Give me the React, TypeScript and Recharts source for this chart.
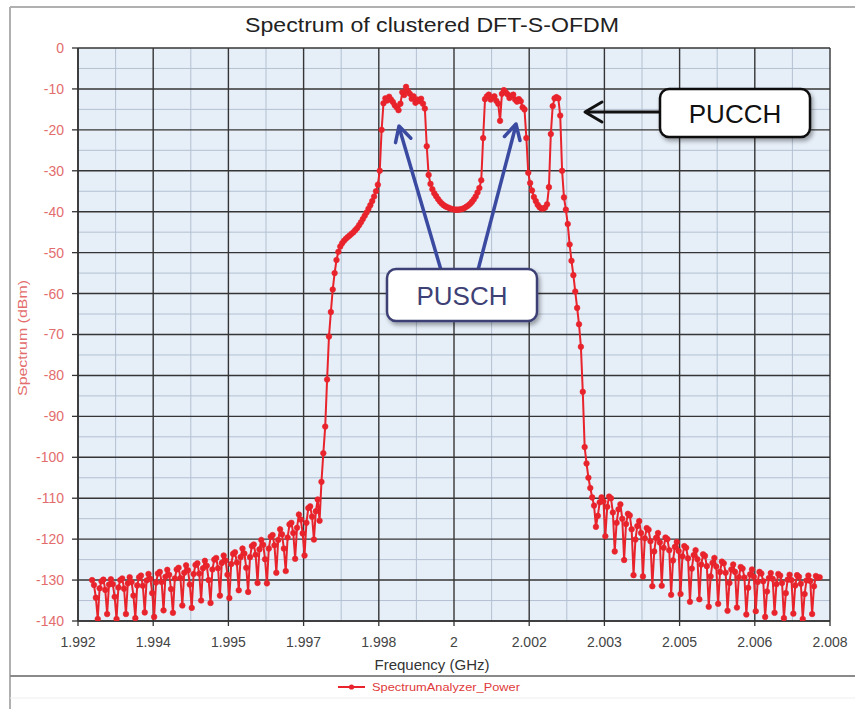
import React from 'react';
import { LineChart, Line, XAxis, YAxis, CartesianGrid } from 'recharts';

// Uniform frequency sampling grid (GHz)
const FREQ_START = 1.9923;
const FREQ_STEP = 0.00004;

// Spectrum values (dBm), in order of frequency
const leftSidelobe = [
  -130.0, -131.2, -134.3, -139.5, -132.0,
  -130.3, -129.9, -132.4, -138.3, -131.1,
  -129.8, -131.0, -134.1, -139.5, -131.8,
  -130.0, -129.6, -132.1, -138.3, -130.8,
  -129.3, -130.5, -133.8, -139.3, -131.3,
  -129.3, -128.9, -131.4, -137.9, -130.1,
  -128.5, -129.7, -133.2, -139.0, -130.6,
  -128.4, -128.0, -130.5, -137.4, -129.2,
  -127.5, -128.7, -132.2, -138.0, -129.6,
  -127.4, -127.0, -129.5, -136.2, -128.2,
  -126.4, -127.6, -131.1, -136.8, -128.5,
  -126.3, -125.9, -128.4, -135.0, -127.1,
  -125.3, -126.5, -130.0, -135.6, -127.4,
  -125.0, -124.6, -127.1, -133.8, -125.8,
  -124.0, -125.2, -128.7, -134.4, -126.1,
  -123.6, -123.2, -125.7, -132.5, -124.4,
  -122.3, -123.5, -127.0, -132.9, -124.4,
  -121.7, -121.3, -123.8, -130.7, -122.5,
  -120.2, -121.4, -124.9, -130.8, -122.3,
  -119.4, -119.0, -121.5, -128.2, -120.2,
  -117.6, -118.8, -122.3, -127.8, -119.6,
  -116.4, -116.0, -118.5, -124.8, -117.2,
  -114.0, -115.2, -118.6, -124.0, -116.0,
  -112.4, -112.0, -114.5, -120.1, -113.2,
];

const mainBand = [
  -110.3, -115.5, -106.0, -99.0, -92.5, -81.0, -70.5, -64.5, -59.0, -55.0,
  -51.8, -49.8, -48.5, -47.7, -47.1, -46.6, -46.2, -45.8, -45.4, -45.0,
  -44.5, -44.0, -43.3, -42.6, -41.8, -41.0, -40.2, -39.3, -38.4, -37.4,
  -36.3, -35.0, -33.4, -30.0, -20.0,
  // PUSCH cluster 1
  -13.5, -12.3, -12.8, -11.9, -12.6, -13.2, -14.0, -14.5, -15.2, -13.6,
  -10.8, -11.5, -9.5, -10.5, -11.2, -12.4, -11.8, -13.4, -12.6, -13.0,
  -12.4, -13.6, -14.8,
  // gap
  -24.0, -31.0, -33.2, -34.5, -35.5, -36.2, -36.9, -37.5, -38.0, -38.4,
  -38.7, -38.9, -39.1, -39.3, -39.4, -39.5, -39.5, -39.5, -39.4, -39.3,
  -39.1, -38.8, -38.5, -38.1, -37.6, -37.0, -36.3, -35.3, -34.2, -32.3,
  -22.0,
  // PUSCH cluster 2
  -12.5, -11.8, -11.4, -12.6, -12.1, -11.8, -12.9, -13.6, -17.8, -11.2,
  -10.3, -10.8, -11.3, -12.2, -11.7, -11.4, -12.6, -13.1, -12.5, -13.0,
  -14.5, -15.0,
  // gap + PUCCH
  -22.0, -30.5, -33.0, -34.8, -36.4, -37.4, -38.3, -38.9, -39.2, -39.2,
  -39.0, -38.2, -34.0, -21.0, -14.2, -12.3, -12.0, -12.3, -16.5, -30.0,
  // falling edge
  -36.5, -39.5, -43.0, -48.0, -52.0, -55.5, -59.5, -63.5, -67.5, -73.0,
  -84.0, -97.5, -101.5, -105.0, -107.5, -109.8,
];

const rightSidelobe = [
  -111.8, -117.0, -114.3, -111.0, -109.8,
  -110.8, -119.3, -112.1, -109.6, -110.0,
  -113.5, -123.0, -116.0, -112.7, -111.5,
  -115.0, -125.1, -116.3, -113.8, -114.2,
  -117.6, -128.8, -120.1, -116.8, -115.6,
  -118.5, -129.1, -119.8, -117.3, -117.7,
  -120.5, -131.5, -123.0, -119.7, -118.5,
  -120.8, -131.4, -122.1, -119.6, -120.0,
  -122.7, -133.6, -125.2, -121.9, -120.7,
  -122.9, -133.4, -124.2, -121.7, -122.1,
  -124.7, -135.3, -127.2, -123.9, -122.7,
  -124.9, -134.7, -126.2, -123.7, -124.1,
  -126.6, -136.5, -129.1, -125.8, -124.6,
  -126.7, -135.8, -128.0, -125.5, -125.9,
  -128.2, -137.5, -130.7, -127.4, -126.2,
  -128.0, -136.7, -129.3, -126.8, -127.2,
  -129.4, -138.4, -131.9, -128.6, -127.4,
  -129.2, -137.6, -130.5, -128.0, -128.4,
  -130.3, -139.0, -132.8, -129.5, -128.3,
  -129.7, -138.0, -131.0, -128.5, -128.9,
  -130.7, -139.3, -133.2, -129.9, -128.7,
  -130.0, -138.2, -131.3, -128.8, -129.2,
  -130.9, -139.5, -133.4, -130.1, -128.9,
  -130.2, -138.3, -131.5, -129.0, -129.4,
  -129.3,
];

const xTicks = [1.992, 1.9936, 1.9952, 1.9968, 1.9984, 2.0, 2.0016, 2.0032, 2.0048, 2.0064, 2.008];
const xMinor = [1.9928, 1.9944, 1.996, 1.9976, 1.9992, 2.0008, 2.0024, 2.004, 2.0056, 2.0072];
const yTicks = [0, -10, -20, -30, -40, -50, -60, -70, -80, -90, -100, -110, -120, -130, -140];
const yMinor = [-5, -15, -25, -35, -45, -55, -65, -75, -85, -95, -105, -115, -125, -135];

const spectrum = [...leftSidelobe, ...mainBand, ...rightSidelobe];
const data = spectrum.map((p, i) => ({ f: FREQ_START + i * FREQ_STEP, power: p }));

const RED = '#e8232b';
const FONT = 'Liberation Sans, Arial, sans-serif';

function chevron(tx: number, ty: number, fx: number, fy: number, len: number, half: number) {
  const dx = tx - fx;
  const dy = ty - fy;
  const l = Math.sqrt(dx * dx + dy * dy);
  const ux = dx / l;
  const uy = dy / l;
  const bx = tx - ux * len;
  const by = ty - uy * len;
  const px = -uy;
  const py = ux;
  return `${bx + px * half},${by + py * half} ${tx},${ty} ${bx - px * half},${by - py * half}`;
}

const fmtX = (v: number) => String(Number(v.toFixed(3)));

export default function App() {
  return (
    <div style={{ position: 'absolute', left: 0, top: 0, width: 855, height: 709, background: '#fff', fontFamily: FONT }}>
      <LineChart
        width={855}
        height={709}
        data={data}
        margin={{ top: 48, right: 25, bottom: 58, left: 0 }}
      >
        <CartesianGrid
          fill="#e6eef8"
          stroke="#b3c1d2"
          strokeWidth={1}
          horizontalValues={yMinor}
          verticalValues={xMinor}
        />
        <CartesianGrid stroke="#353535" strokeWidth={1.4} fill="none" horizontalValues={yTicks} verticalValues={xTicks} />
        <XAxis
          dataKey="f"
          type="number"
          domain={[1.992, 2.008]}
          ticks={xTicks}
          tickFormatter={fmtX}
          height={30}
          tickSize={5}
          tickMargin={11}
          interval={0}
          allowDataOverflow
          axisLine={{ stroke: '#333', strokeWidth: 1.6 }}
          tickLine={{ stroke: '#333', strokeWidth: 1.3 }}
          tick={{ fill: '#444', fontSize: 14, fontFamily: FONT }}
        />
        <YAxis
          type="number"
          domain={[-140, 0]}
          ticks={yTicks}
          width={78}
          tickSize={6}
          tickMargin={8}
          interval={0}
          allowDataOverflow
          axisLine={{ stroke: '#333', strokeWidth: 1.6 }}
          tickLine={{ stroke: '#333', strokeWidth: 1.3 }}
          tick={{ fill: '#e36d6d', fontSize: 14, fontFamily: FONT }}
        />
        <Line
          type="linear"
          dataKey="power"
          stroke={RED}
          strokeWidth={2}
          dot={{ r: 2.8, fill: RED, stroke: RED, strokeWidth: 0.6 }}
          isAnimationActive={false}
        />
      </LineChart>

      <svg
        width={855}
        height={709}
        style={{ position: 'absolute', left: 0, top: 0, pointerEvents: 'none' }}
      >
        <defs>
          <filter id="shadow" x="-20%" y="-20%" width="140%" height="150%">
            <feDropShadow dx="2" dy="3" stdDeviation="2" floodColor="#000" floodOpacity="0.35" />
          </filter>
        </defs>
        {/* frame */}
        <line x1={10} y1={7} x2={855} y2={7} stroke="#b0b0b0" strokeWidth={2} />
        <line x1={10} y1={7} x2={10} y2={709} stroke="#b0b0b0" strokeWidth={2} />
        <line x1={10} y1={676} x2={855} y2={676} stroke="#8a8a8a" strokeWidth={2} />
        <line x1={10} y1={698} x2={855} y2={698} stroke="#eeeeee" strokeWidth={1} />

        {/* title */}
        <text x={432} y={32} textAnchor="middle" fontSize={20} fontFamily={FONT} fill="#222"
          textLength={374} lengthAdjust="spacingAndGlyphs">
          Spectrum of clustered DFT-S-OFDM
        </text>

        {/* axis titles */}
        <text x={432} y={670} textAnchor="middle" fontSize={14} fontFamily={FONT} fill="#333"
          textLength={115} lengthAdjust="spacingAndGlyphs">
          Frequency (GHz)
        </text>
        <text x={0} y={0} transform="translate(27,338) rotate(-90)" textAnchor="middle" fontSize={13}
          fontFamily={FONT} fill="#e36d6d" textLength={116} lengthAdjust="spacingAndGlyphs">
          Spectrum (dBm)
        </text>

        {/* legend */}
        <line x1={338} y1={687} x2={365} y2={687} stroke={RED} strokeWidth={2} />
        <circle cx={351.5} cy={687} r={2.6} fill={RED} />
        <text x={372} y={691} fontSize={11.5} fontFamily={FONT} fill="#e03a3a"
          textLength={148} lengthAdjust="spacingAndGlyphs">
          SpectrumAnalyzer_Power
        </text>

        {/* PUCCH annotation */}
        <line x1={660} y1={112} x2={587} y2={112} stroke="#111" strokeWidth={3} />
        <polyline points={chevron(585, 112, 660, 112, 17, 10)} fill="none" stroke="#111" strokeWidth={3}
          strokeLinecap="round" strokeLinejoin="round" />
        <rect x={660} y={89} width={150} height={48} rx={9} fill="#fff" stroke="#111" strokeWidth={2.5}
          filter="url(#shadow)" />
        <text x={735} y={123} textAnchor="middle" fontSize={26} fontFamily={FONT} fill="#111">PUCCH</text>

        {/* PUSCH annotation */}
        <line x1={441} y1={270} x2={399} y2={127} stroke="#3a4aa0" strokeWidth={3.5} />
        <polyline points={chevron(399, 126, 441, 270, 15, 8)} fill="none" stroke="#3a4aa0" strokeWidth={3.5}
          strokeLinecap="round" strokeLinejoin="round" />
        <line x1={478} y1={270} x2={516} y2={125} stroke="#3a4aa0" strokeWidth={3.5} />
        <polyline points={chevron(516, 124, 478, 270, 15, 8)} fill="none" stroke="#3a4aa0" strokeWidth={3.5}
          strokeLinecap="round" strokeLinejoin="round" />
        <rect x={387} y={269} width={150} height={52} rx={9} fill="#fff" stroke="#3d4175" strokeWidth={2.5}
          filter="url(#shadow)" />
        <text x={462} y={305} textAnchor="middle" fontSize={26} fontFamily={FONT} fill="#3d4175">PUSCH</text>
      </svg>
    </div>
  );
}
